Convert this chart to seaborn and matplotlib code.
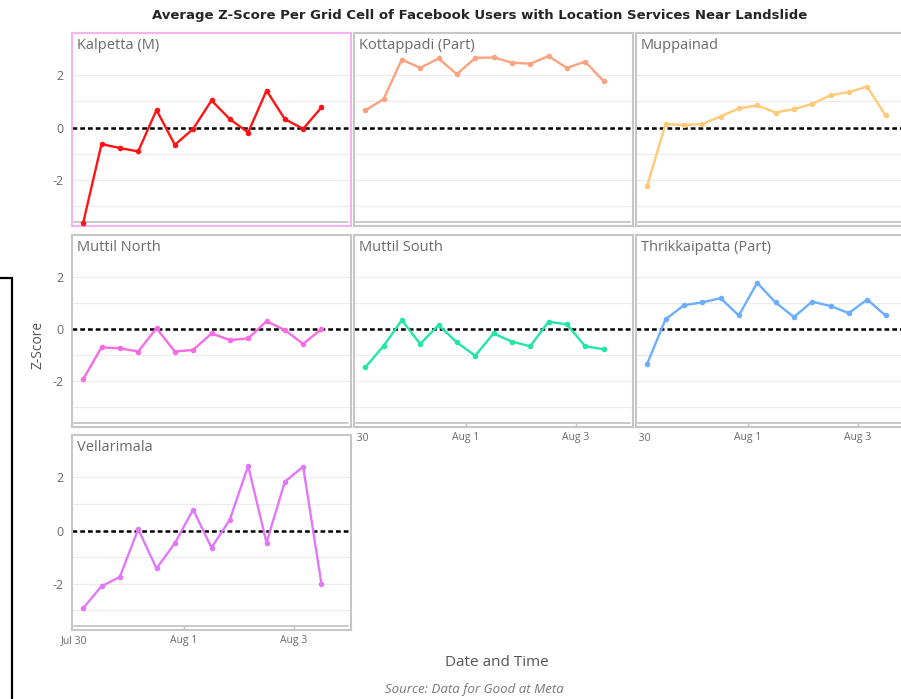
import numpy as np
import pandas as pd
import matplotlib
matplotlib.use("Agg")
import matplotlib.pyplot as plt
import matplotlib.dates as mdates
from matplotlib.lines import Line2D
from matplotlib.transforms import Bbox
import seaborn as sns

# ---------------- data ----------------
areas = ["Kalpetta (M)", "Kottappadi (Part)", "Muppainad",
         "Muttil North", "Muttil South", "Thrikkaipatta (Part)", "Vellarimala"]
colors = ["#FF1414", "#FBA27E", "#FFC978", "#F76CE2", "#22E5A8", "#6BAEFF", "#E277F8"]

times = pd.date_range("2024-07-30 04:00", periods=14, freq="8h")

kalpetta = [-3.63, -0.63, -0.78, -0.91, 0.67, -0.66, -0.05, 1.03, 0.32, -0.19, 1.41, 0.32, -0.05, 0.77]
kottappadi = [0.65, 1.08, 2.59, 2.27, 2.63, 2.03, 2.65, 2.67, 2.47, 2.43, 2.72, 2.27, 2.51, 1.77]
muppainad = [-2.22, 0.13, 0.10, 0.13, 0.42, 0.73, 0.84, 0.57, 0.70, 0.90, 1.23, 1.35, 1.56, 0.46]
muttil_north = [-1.92, -0.70, -0.74, -0.86, 0.03, -0.86, -0.80, -0.17, -0.42, -0.36, 0.30, -0.04, -0.57, 0.0]
muttil_south = [-1.47, -0.65, 0.34, -0.57, 0.15, -0.51, -1.02, -0.17, -0.48, -0.66, 0.28, 0.18, -0.66, -0.77]
thrikkaipatta = [-1.33, 0.37, 0.91, 1.02, 1.18, 0.52, 1.77, 1.02, 0.46, 1.05, 0.88, 0.61, 1.13, 0.52]
vellarimala = [-2.93, -2.10, -1.75, 0.05, -1.43, -0.48, 0.79, -0.65, 0.41, 2.44, -0.46, 1.84, 2.41, -2.03]

series = [kalpetta, kottappadi, muppainad, muttil_north, muttil_south, thrikkaipatta, vellarimala]

df = pd.concat([pd.DataFrame({"time": times, "z": vals, "area": name})
                for name, vals in zip(areas, series)], ignore_index=True)

tick_dates = pd.to_datetime(["2024-07-30", "2024-08-01", "2024-08-03"])
tick_labels = ["Jul 30", "Aug 1", "Aug 3"]

# ---------------- style ----------------
sns.set_theme(style="white")
plt.rcParams["font.family"] = ["Open Sans", "DejaVu Sans"]

W, H = 901, 699
fig = plt.figure(figsize=(W / 100, H / 100), dpi=100)

rows = [(33, 226), (235, 427), (435, 630)]
cols = [(72, 351), (354, 633), (636, 915)]

t0 = mdates.date2num(pd.Timestamp("2024-07-30"))
xlim = (t0 - 2 / 55, t0 + 277 / 55)
ylim = (-3.75, 3.6)

frame_gray = "#c6c6c6"
text_gray = "#6a6a6a"

for i, (name, col) in enumerate(zip(areas, colors)):
    r, c = divmod(i, 3)
    x0, x1 = cols[c]
    y0, y1 = rows[r]
    ax = fig.add_axes([x0 / W, 1 - y1 / H, (x1 - x0) / W, (y1 - y0) / H])
    show_x = (r == 2) or (r == 1 and c > 0)
    for yy in [-3, -2, -1, 1, 2]:
        ax.axhline(yy, color="#ececec", lw=0.9, zorder=0)
    ax.axhline(0, color="black", lw=1.8, ls=(0, (1.9, 1.2)), zorder=1)
    ax.axhline(-3.6, xmin=2 / 279, xmax=276 / 279, color="#c4c4c4", lw=1.3, zorder=1)
    if show_x:
        ax.vlines(tick_dates[1:], -3.75, -3.6, color="#c4c4c4", lw=1.0)
    sns.lineplot(data=df[df["area"] == name], x="time", y="z", ax=ax, color=col,
                 marker="o", markersize=4.0, markeredgewidth=0, lw=1.7, zorder=3)
    ax.set_xlim(xlim)
    ax.set_ylim(ylim)
    ax.set_xlabel("")
    ax.set_ylabel("")
    ax.set_xticks(tick_dates)
    ax.set_yticks([-2, 0, 2])
    ax.tick_params(length=0, colors=text_gray, labelsize=7.5, pad=3.5, axis="x")
    ax.tick_params(length=0, colors=text_gray, labelsize=9, pad=6, axis="y")
    if show_x:
        ax.set_xticklabels(tick_labels)
        if c > 0:
            clip = Bbox.from_extents(x0 + 2, 0, x1, H)
            for lab in ax.get_xticklabels():
                lab.set_clip_on(True)
                lab.set_clip_box(clip)
    else:
        ax.set_xticklabels([])
    if c == 0:
        ax.set_yticklabels(["-2", "0", "2"])
    else:
        ax.set_yticklabels([])
    ecol = "#F7B2F0" if i == 0 else frame_gray
    for s in ax.spines.values():
        s.set_visible(True)
        s.set_color(ecol)
        s.set_linewidth(1.5)
    ax.annotate(name, xy=(0, 1), xycoords="axes fraction", xytext=(3.5, -3.5),
                textcoords="offset points", ha="left", va="top",
                fontsize=10.5, color=text_gray)

fig.text(480 / W, 1 - 15 / H,
         "Average Z-Score Per Grid Cell of Facebook Users with Location Services Near Landslide",
         ha="center", va="center", fontsize=9.5, fontweight="bold", color="#252423",
         family=["Liberation Sans Narrow", "DejaVu Sans"])
fig.text(38 / W, 1 - 345 / H, "Z-Score", rotation=90, ha="center", va="center",
         fontsize=10, color="#555555")
fig.text(497 / W, 1 - 662 / H, "Date and Time", ha="center", va="center",
         fontsize=11, color="#555555")
fig.text(474 / W, 1 - 690 / H, "Source: Data for Good at Meta", ha="center", va="center",
         fontsize=9.5, color="#777777", style="italic")

# frame fragment at the left edge of the screenshot
fig.add_artist(Line2D([11.5 / W, 11.5 / W], [0, 1 - 278 / H], color="black", lw=1.6,
                      transform=fig.transFigure))
fig.add_artist(Line2D([0, 12 / W], [1 - 278 / H, 1 - 278 / H], color="black", lw=1.6,
                      transform=fig.transFigure))

fig.savefig("out.png", dpi=100)
